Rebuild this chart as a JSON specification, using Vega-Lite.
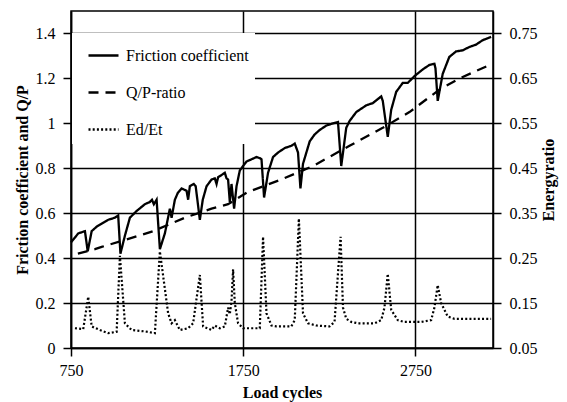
{
  "$schema": "https://vega.github.io/schema/vega-lite/v6.json",
  "width": 422,
  "height": 337,
  "autosize": {"type": "none"},
  "padding": {"left": 71, "top": 11, "right": 74, "bottom": 54},
  "background": "white",
  "config": {
    "font": "serif",
    "view": {"stroke": "black", "strokeWidth": 1.5},
    "axis": {
      "labelFont": "serif",
      "titleFont": "serif",
      "labelFontSize": 16,
      "titleFontSize": 16,
      "titleFontWeight": "bold",
      "labelColor": "black",
      "titleColor": "black",
      "domainColor": "black",
      "domainWidth": 1.5,
      "tickColor": "black",
      "tickWidth": 1.5,
      "tickSize": 8,
      "gridColor": "black",
      "gridWidth": 1.5,
      "gridOpacity": 1,
      "labelPadding": 6,
      "labelFlush": false
    },
    "legend": {
      "labelFont": "serif",
      "labelFontSize": 16,
      "labelColor": "black"
    }
  },
  "datasets": {
    "d": [
      {"c": 750, "v": 0.47, "s": "Friction coefficient"},
      {"c": 792, "v": 0.51, "s": "Friction coefficient"},
      {"c": 831, "v": 0.52, "s": "Friction coefficient"},
      {"c": 847, "v": 0.43, "s": "Friction coefficient"},
      {"c": 870, "v": 0.52, "s": "Friction coefficient"},
      {"c": 899, "v": 0.54, "s": "Friction coefficient"},
      {"c": 964, "v": 0.57, "s": "Friction coefficient"},
      {"c": 1005, "v": 0.58, "s": "Friction coefficient"},
      {"c": 1024, "v": 0.59, "s": "Friction coefficient"},
      {"c": 1037, "v": 0.42, "s": "Friction coefficient"},
      {"c": 1063, "v": 0.50, "s": "Friction coefficient"},
      {"c": 1092, "v": 0.58, "s": "Friction coefficient"},
      {"c": 1131, "v": 0.61, "s": "Friction coefficient"},
      {"c": 1179, "v": 0.64, "s": "Friction coefficient"},
      {"c": 1208, "v": 0.65, "s": "Friction coefficient"},
      {"c": 1220, "v": 0.66, "s": "Friction coefficient"},
      {"c": 1231, "v": 0.64, "s": "Friction coefficient"},
      {"c": 1247, "v": 0.66, "s": "Friction coefficient"},
      {"c": 1266, "v": 0.44, "s": "Friction coefficient"},
      {"c": 1295, "v": 0.51, "s": "Friction coefficient"},
      {"c": 1324, "v": 0.62, "s": "Friction coefficient"},
      {"c": 1334, "v": 0.58, "s": "Friction coefficient"},
      {"c": 1353, "v": 0.66, "s": "Friction coefficient"},
      {"c": 1370, "v": 0.69, "s": "Friction coefficient"},
      {"c": 1392, "v": 0.71, "s": "Friction coefficient"},
      {"c": 1421, "v": 0.70, "s": "Friction coefficient"},
      {"c": 1430, "v": 0.66, "s": "Friction coefficient"},
      {"c": 1440, "v": 0.72, "s": "Friction coefficient"},
      {"c": 1463, "v": 0.73, "s": "Friction coefficient"},
      {"c": 1474, "v": 0.72, "s": "Friction coefficient"},
      {"c": 1498, "v": 0.57, "s": "Friction coefficient"},
      {"c": 1515, "v": 0.66, "s": "Friction coefficient"},
      {"c": 1537, "v": 0.72, "s": "Friction coefficient"},
      {"c": 1566, "v": 0.75, "s": "Friction coefficient"},
      {"c": 1585, "v": 0.755, "s": "Friction coefficient"},
      {"c": 1595, "v": 0.73, "s": "Friction coefficient"},
      {"c": 1604, "v": 0.76, "s": "Friction coefficient"},
      {"c": 1624, "v": 0.77, "s": "Friction coefficient"},
      {"c": 1643, "v": 0.78, "s": "Friction coefficient"},
      {"c": 1653, "v": 0.755, "s": "Friction coefficient"},
      {"c": 1662, "v": 0.75, "s": "Friction coefficient"},
      {"c": 1672, "v": 0.65, "s": "Friction coefficient"},
      {"c": 1682, "v": 0.73, "s": "Friction coefficient"},
      {"c": 1697, "v": 0.62, "s": "Friction coefficient"},
      {"c": 1711, "v": 0.72, "s": "Friction coefficient"},
      {"c": 1730, "v": 0.79, "s": "Friction coefficient"},
      {"c": 1749, "v": 0.81, "s": "Friction coefficient"},
      {"c": 1769, "v": 0.83, "s": "Friction coefficient"},
      {"c": 1798, "v": 0.84, "s": "Friction coefficient"},
      {"c": 1827, "v": 0.85, "s": "Friction coefficient"},
      {"c": 1846, "v": 0.845, "s": "Friction coefficient"},
      {"c": 1856, "v": 0.84, "s": "Friction coefficient"},
      {"c": 1871, "v": 0.67, "s": "Friction coefficient"},
      {"c": 1894, "v": 0.78, "s": "Friction coefficient"},
      {"c": 1923, "v": 0.85, "s": "Friction coefficient"},
      {"c": 1952, "v": 0.87, "s": "Friction coefficient"},
      {"c": 1991, "v": 0.89, "s": "Friction coefficient"},
      {"c": 2029, "v": 0.90, "s": "Friction coefficient"},
      {"c": 2049, "v": 0.91, "s": "Friction coefficient"},
      {"c": 2068, "v": 0.87, "s": "Friction coefficient"},
      {"c": 2082, "v": 0.71, "s": "Friction coefficient"},
      {"c": 2097, "v": 0.82, "s": "Friction coefficient"},
      {"c": 2136, "v": 0.92, "s": "Friction coefficient"},
      {"c": 2164, "v": 0.95, "s": "Friction coefficient"},
      {"c": 2193, "v": 0.97, "s": "Friction coefficient"},
      {"c": 2232, "v": 0.99, "s": "Friction coefficient"},
      {"c": 2271, "v": 1.00, "s": "Friction coefficient"},
      {"c": 2300, "v": 1.006, "s": "Friction coefficient"},
      {"c": 2319, "v": 0.81, "s": "Friction coefficient"},
      {"c": 2348, "v": 0.98, "s": "Friction coefficient"},
      {"c": 2367, "v": 1.01, "s": "Friction coefficient"},
      {"c": 2406, "v": 1.05, "s": "Friction coefficient"},
      {"c": 2425, "v": 1.06, "s": "Friction coefficient"},
      {"c": 2464, "v": 1.08, "s": "Friction coefficient"},
      {"c": 2502, "v": 1.09, "s": "Friction coefficient"},
      {"c": 2551, "v": 1.12, "s": "Friction coefficient"},
      {"c": 2560, "v": 1.10, "s": "Friction coefficient"},
      {"c": 2589, "v": 0.94, "s": "Friction coefficient"},
      {"c": 2609, "v": 1.06, "s": "Friction coefficient"},
      {"c": 2638, "v": 1.14, "s": "Friction coefficient"},
      {"c": 2676, "v": 1.18, "s": "Friction coefficient"},
      {"c": 2705, "v": 1.18, "s": "Friction coefficient"},
      {"c": 2744, "v": 1.21, "s": "Friction coefficient"},
      {"c": 2792, "v": 1.24, "s": "Friction coefficient"},
      {"c": 2831, "v": 1.26, "s": "Friction coefficient"},
      {"c": 2860, "v": 1.265, "s": "Friction coefficient"},
      {"c": 2866, "v": 1.245, "s": "Friction coefficient"},
      {"c": 2879, "v": 1.10, "s": "Friction coefficient"},
      {"c": 2908, "v": 1.22, "s": "Friction coefficient"},
      {"c": 2946, "v": 1.295, "s": "Friction coefficient"},
      {"c": 2985, "v": 1.32, "s": "Friction coefficient"},
      {"c": 3024, "v": 1.325, "s": "Friction coefficient"},
      {"c": 3063, "v": 1.34, "s": "Friction coefficient"},
      {"c": 3101, "v": 1.35, "s": "Friction coefficient"},
      {"c": 3140, "v": 1.37, "s": "Friction coefficient"},
      {"c": 3189, "v": 1.385, "s": "Friction coefficient"},
      {"c": 790, "v": 0.42, "s": "Q/P-ratio"},
      {"c": 889, "v": 0.44, "s": "Q/P-ratio"},
      {"c": 928, "v": 0.45, "s": "Q/P-ratio"},
      {"c": 1102, "v": 0.49, "s": "Q/P-ratio"},
      {"c": 1227, "v": 0.52, "s": "Q/P-ratio"},
      {"c": 1411, "v": 0.58, "s": "Q/P-ratio"},
      {"c": 1566, "v": 0.62, "s": "Q/P-ratio"},
      {"c": 1662, "v": 0.64, "s": "Q/P-ratio"},
      {"c": 1778, "v": 0.695, "s": "Q/P-ratio"},
      {"c": 1971, "v": 0.75, "s": "Q/P-ratio"},
      {"c": 2155, "v": 0.81, "s": "Q/P-ratio"},
      {"c": 2367, "v": 0.90, "s": "Q/P-ratio"},
      {"c": 2560, "v": 0.98, "s": "Q/P-ratio"},
      {"c": 2715, "v": 1.05, "s": "Q/P-ratio"},
      {"c": 2889, "v": 1.15, "s": "Q/P-ratio"},
      {"c": 3005, "v": 1.20, "s": "Q/P-ratio"},
      {"c": 3196, "v": 1.265, "s": "Q/P-ratio"},
      {"c": 773, "v": 0.094, "s": "Ed/Et"},
      {"c": 821, "v": 0.092, "s": "Ed/Et"},
      {"c": 850, "v": 0.164, "s": "Ed/Et"},
      {"c": 870, "v": 0.098, "s": "Ed/Et"},
      {"c": 918, "v": 0.09, "s": "Ed/Et"},
      {"c": 966, "v": 0.083, "s": "Ed/Et"},
      {"c": 1015, "v": 0.086, "s": "Ed/Et"},
      {"c": 1034, "v": 0.255, "s": "Ed/Et"},
      {"c": 1063, "v": 0.105, "s": "Ed/Et"},
      {"c": 1102, "v": 0.09, "s": "Ed/Et"},
      {"c": 1179, "v": 0.087, "s": "Ed/Et"},
      {"c": 1237, "v": 0.083, "s": "Ed/Et"},
      {"c": 1266, "v": 0.265, "s": "Ed/Et"},
      {"c": 1314, "v": 0.127, "s": "Ed/Et"},
      {"c": 1334, "v": 0.105, "s": "Ed/Et"},
      {"c": 1353, "v": 0.112, "s": "Ed/Et"},
      {"c": 1382, "v": 0.09, "s": "Ed/Et"},
      {"c": 1430, "v": 0.094, "s": "Ed/Et"},
      {"c": 1459, "v": 0.105, "s": "Ed/Et"},
      {"c": 1498, "v": 0.2125, "s": "Ed/Et"},
      {"c": 1517, "v": 0.098, "s": "Ed/Et"},
      {"c": 1566, "v": 0.09, "s": "Ed/Et"},
      {"c": 1585, "v": 0.10, "s": "Ed/Et"},
      {"c": 1614, "v": 0.094, "s": "Ed/Et"},
      {"c": 1643, "v": 0.098, "s": "Ed/Et"},
      {"c": 1662, "v": 0.14, "s": "Ed/Et"},
      {"c": 1672, "v": 0.125, "s": "Ed/Et"},
      {"c": 1682, "v": 0.155, "s": "Ed/Et"},
      {"c": 1691, "v": 0.225, "s": "Ed/Et"},
      {"c": 1701, "v": 0.15, "s": "Ed/Et"},
      {"c": 1720, "v": 0.105, "s": "Ed/Et"},
      {"c": 1749, "v": 0.094, "s": "Ed/Et"},
      {"c": 1846, "v": 0.094, "s": "Ed/Et"},
      {"c": 1865, "v": 0.2975, "s": "Ed/Et"},
      {"c": 1885, "v": 0.127, "s": "Ed/Et"},
      {"c": 1914, "v": 0.10, "s": "Ed/Et"},
      {"c": 1943, "v": 0.098, "s": "Ed/Et"},
      {"c": 2029, "v": 0.098, "s": "Ed/Et"},
      {"c": 2049, "v": 0.112, "s": "Ed/Et"},
      {"c": 2073, "v": 0.338, "s": "Ed/Et"},
      {"c": 2097, "v": 0.127, "s": "Ed/Et"},
      {"c": 2126, "v": 0.105, "s": "Ed/Et"},
      {"c": 2174, "v": 0.10, "s": "Ed/Et"},
      {"c": 2251, "v": 0.098, "s": "Ed/Et"},
      {"c": 2280, "v": 0.108, "s": "Ed/Et"},
      {"c": 2315, "v": 0.2975, "s": "Ed/Et"},
      {"c": 2329, "v": 0.14, "s": "Ed/Et"},
      {"c": 2348, "v": 0.115, "s": "Ed/Et"},
      {"c": 2377, "v": 0.108, "s": "Ed/Et"},
      {"c": 2416, "v": 0.105, "s": "Ed/Et"},
      {"c": 2512, "v": 0.105, "s": "Ed/Et"},
      {"c": 2551, "v": 0.112, "s": "Ed/Et"},
      {"c": 2570, "v": 0.14, "s": "Ed/Et"},
      {"c": 2589, "v": 0.215, "s": "Ed/Et"},
      {"c": 2609, "v": 0.135, "s": "Ed/Et"},
      {"c": 2647, "v": 0.112, "s": "Ed/Et"},
      {"c": 2686, "v": 0.108, "s": "Ed/Et"},
      {"c": 2783, "v": 0.108, "s": "Ed/Et"},
      {"c": 2841, "v": 0.112, "s": "Ed/Et"},
      {"c": 2860, "v": 0.14, "s": "Ed/Et"},
      {"c": 2879, "v": 0.19, "s": "Ed/Et"},
      {"c": 2899, "v": 0.15, "s": "Ed/Et"},
      {"c": 2937, "v": 0.12, "s": "Ed/Et"},
      {"c": 2976, "v": 0.115, "s": "Ed/Et"},
      {"c": 3189, "v": 0.115, "s": "Ed/Et"}
    ]
  },
  "data": {"name": "d"},
  "layer": [
    {
      "transform": [{"filter": "datum.s !== 'Ed/Et'"}],
      "mark": {"type": "line", "color": "black", "strokeWidth": 2.3},
      "encoding": {
        "x": {
          "field": "c", "type": "quantitative",
          "scale": {"domain": [750, 3200], "nice": false, "zero": false},
          "axis": {"title": "Load cycles", "values": [750, 1750, 2750], "format": "d", "grid": true, "titlePadding": 6, "labelPadding": 6}
        },
        "y": {
          "field": "v", "type": "quantitative",
          "scale": {"domain": [0, 1.5], "nice": false},
          "axis": {"title": "Friction coefficient and Q/P", "values": [0, 0.2, 0.4, 0.6, 0.8, 1, 1.2, 1.4], "format": "~g", "grid": true, "titlePadding": 5, "labelPadding": 8}
        },
        "detail": {"field": "s"},
        "strokeDash": {
          "field": "s", "type": "nominal",
          "scale": {"domain": ["Friction coefficient", "Q/P-ratio", "Ed/Et"], "range": [[1, 0], [10, 7], [2, 2.2]]},
          "legend": {
            "title": null, "orient": "none", "legendX": 1, "legendY": 22,
            "fillColor": "white", "padding": 6, "rowPadding": 12,
            "symbolType": "stroke", "symbolSize": 900, "symbolStrokeWidth": 2.5,
            "symbolOffset": 9,
            "symbolStrokeColor": "black", "labelOffset": 6, "strokeColor": null
          }
        }
      }
    },
    {
      "transform": [{"filter": "datum.s === 'Ed/Et'"}],
      "mark": {"type": "line", "color": "black", "strokeWidth": 2.2},
      "encoding": {
        "x": {"field": "c", "type": "quantitative", "scale": {"domain": [750, 3200], "nice": false, "zero": false}},
        "y": {
          "field": "v", "type": "quantitative",
          "scale": {"domain": [0.05, 0.8], "nice": false, "zero": false},
          "axis": {"orient": "right", "title": "Energyratio", "values": [0.05, 0.15, 0.25, 0.35, 0.45, 0.55, 0.65, 0.75], "format": ".2f", "grid": false, "titleAngle": -90, "titleBaseline": "top", "titlePadding": 3, "labelPadding": 8}
        },
        "strokeDash": {
          "field": "s", "type": "nominal",
          "scale": {"domain": ["Friction coefficient", "Q/P-ratio", "Ed/Et"], "range": [[1, 0], [10, 7], [2, 2.2]]}
        }
      }
    }
  ],
  "resolve": {"scale": {"y": "independent", "strokeDash": "shared"}}
}
